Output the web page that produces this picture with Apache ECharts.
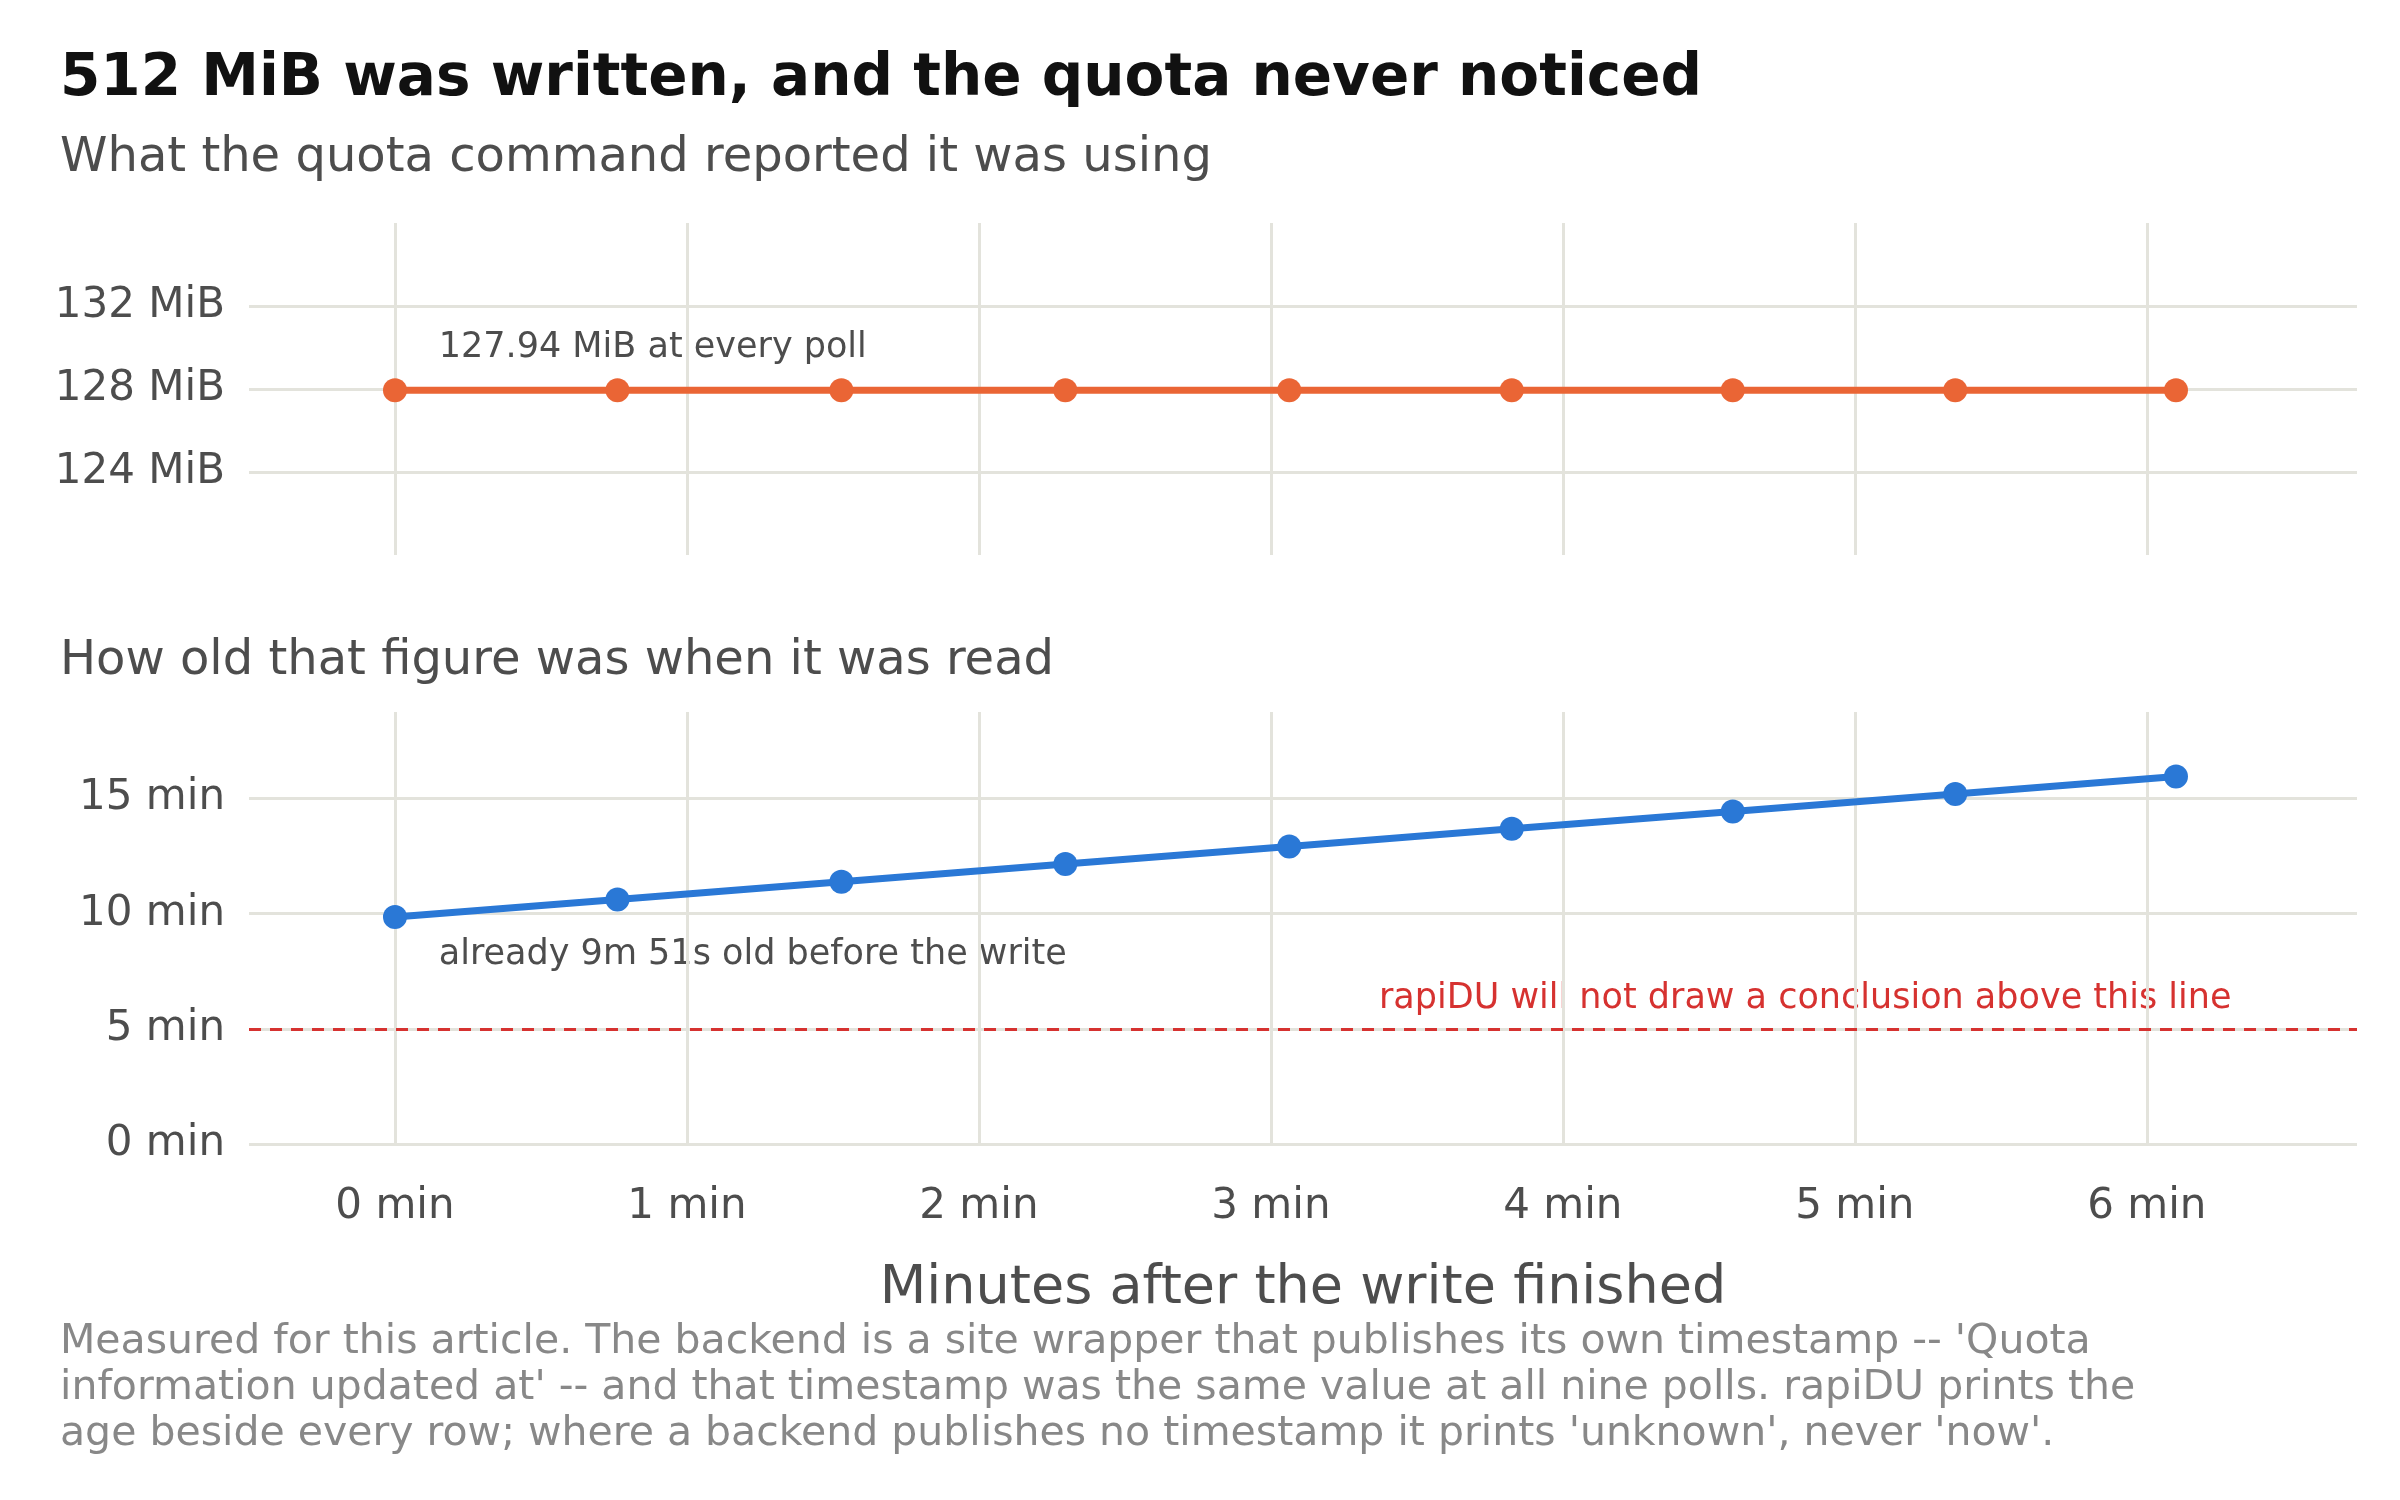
<!DOCTYPE html>
<html><head><meta charset="utf-8">
<script src="https://cdn.jsdelivr.net/npm/echarts@6/dist/echarts.min.js"></script>
<style>html,body{margin:0;background:#fff}#c{width:2400px;height:1500px}</style>
</head><body><div id="c"></div>
<script>
const pollMinutes = [0, 0.762, 1.529, 2.296, 3.063, 3.825, 4.582, 5.344, 6.10];
const reportedMiB = [127.94, 127.94, 127.94, 127.94, 127.94, 127.94, 127.94, 127.94, 127.94];
const ageMinutes = [9.85, 10.61, 11.38, 12.15, 12.91, 13.68, 14.43, 15.19, 15.95];
const topTicks = [124, 128, 132];
const bottomTicks = [0, 5, 10, 15];
const xTicks = [0, 1, 2, 3, 4, 5, 6];
const thresholdMin = 5;

const F = 'DejaVu Sans';
const GRID = '#E3E3DC', TXT = '#4D4D4D';
const chart = echarts.init(document.getElementById('c'));
const hLines = ticks => ticks.map(v => ({yAxis: v}));
const vLines = xTicks.map(v => ({xAxis: v}));
const lineStyleGrid = {color: GRID, width: 3, type: 'solid'};
const xAxisBase = {type: 'value', min: -0.5, max: 6.72, interval: 0.5,
  splitLine: {show: false}, axisLine: {show: false}, axisTick: {show: false}};
const yBase = {type: 'value', splitLine: {show: false}, axisLine: {show: false}, axisTick: {show: false},
  axisLabel: {fontFamily: F, fontSize: 42, color: TXT, margin: 24}};

chart.setOption({
  animation: false,
  textStyle: {fontFamily: F},
  title: [
    {text: '512 MiB was written, and the quota never noticed', left: 55, top: 46,
     textStyle: {fontFamily: F, fontSize: 58, fontWeight: 'bold', color: '#111'}},
    {text: 'What the quota command reported it was using', left: 55, top: 130,
     textStyle: {fontFamily: F, fontSize: 48, fontWeight: 'normal', color: TXT}},
    {text: 'How old that figure was when it was read', left: 55, top: 633,
     textStyle: {fontFamily: F, fontSize: 48, fontWeight: 'normal', color: TXT}},
    {text: "Measured for this article. The backend is a site wrapper that publishes its own timestamp -- 'Quota\ninformation updated at' -- and that timestamp was the same value at all nine polls. rapiDU prints the\nage beside every row; where a backend publishes no timestamp it prints 'unknown', never 'now'.",
     left: 55, top: 1314,
     textStyle: {fontFamily: F, fontSize: 41, fontWeight: 'normal', color: '#888', lineHeight: 46}}
  ],
  grid: [
    {left: 249, right: 43, top: 223, height: 332},
    {left: 249, right: 43, top: 712, height: 432}
  ],
  xAxis: [
    Object.assign({gridIndex: 0, axisLabel: {show: false}}, xAxisBase),
    Object.assign({gridIndex: 1, name: 'Minutes after the write finished', nameLocation: 'middle', nameGap: 118,
      nameTextStyle: {fontFamily: F, fontSize: 54, color: TXT},
      axisLabel: {fontFamily: F, fontSize: 42, color: TXT, margin: 42,
        formatter: v => Number.isInteger(v) && v >= 0 && v <= 6 ? v + ' min' : ''}}, xAxisBase)
  ],
  yAxis: [
    Object.assign({gridIndex: 0, min: 120, max: 136, interval: 4}, yBase,
      {axisLabel: Object.assign({}, yBase.axisLabel, {formatter: v => topTicks.includes(v) ? v + ' MiB' : ''})}),
    Object.assign({gridIndex: 1, min: 0, max: 18.75, interval: 5}, yBase,
      {axisLabel: Object.assign({}, yBase.axisLabel, {formatter: v => bottomTicks.includes(v) ? v + ' min' : ''})})
  ],
  series: [
    {type: 'line', xAxisIndex: 0, yAxisIndex: 0, data: [], silent: true,
     markLine: {symbol: 'none', silent: true, label: {show: false}, lineStyle: lineStyleGrid,
       data: hLines(topTicks).concat(vLines)}},
    {type: 'line', xAxisIndex: 1, yAxisIndex: 1, data: [], silent: true,
     markLine: {symbol: 'none', silent: true, label: {show: false}, lineStyle: lineStyleGrid,
       data: hLines(bottomTicks).concat(vLines)}},
    {type: 'line', xAxisIndex: 1, yAxisIndex: 1, data: [], silent: true, z: 3,
     markLine: {symbol: 'none', silent: true, label: {show: false},
       lineStyle: {color: '#D63230', width: 3, type: [12, 9]}, data: [{yAxis: thresholdMin}]}},
    {type: 'line', xAxisIndex: 0, yAxisIndex: 0, z: 5,
     data: pollMinutes.map((x, i) => [x, reportedMiB[i]]),
     lineStyle: {color: '#EA6535', width: 7}, itemStyle: {color: '#EA6535'},
     symbol: 'circle', symbolSize: 24},
    {type: 'line', xAxisIndex: 1, yAxisIndex: 1, z: 5,
     data: pollMinutes.map((x, i) => [x, ageMinutes[i]]),
     lineStyle: {color: '#2A78D6', width: 7}, itemStyle: {color: '#2A78D6'},
     symbol: 'circle', symbolSize: 24}
  ]
});

const p1 = chart.convertToPixel({xAxisIndex: 0, yAxisIndex: 0}, [0.15, 130.0]);
const p2 = chart.convertToPixel({xAxisIndex: 1, yAxisIndex: 1}, [0.15, 8.2]);
const p3 = chart.convertToPixel({xAxisIndex: 1, yAxisIndex: 1}, [6.29, 6.3]);
const aFont = '35px "DejaVu Sans"';
chart.setOption({graphic: [
  {type: 'text', x: p1[0], y: p1[1], style: {text: '127.94 MiB at every poll', font: aFont, fill: TXT, verticalAlign: 'middle'}},
  {type: 'text', x: p2[0], y: p2[1], style: {text: 'already 9m 51s old before the write', font: aFont, fill: TXT, verticalAlign: 'middle'}},
  {type: 'text', x: p3[0], y: p3[1], style: {text: 'rapiDU will not draw a conclusion above this line', font: aFont, fill: '#D63230', align: 'right', verticalAlign: 'middle'}}
]});
</script></body></html>
